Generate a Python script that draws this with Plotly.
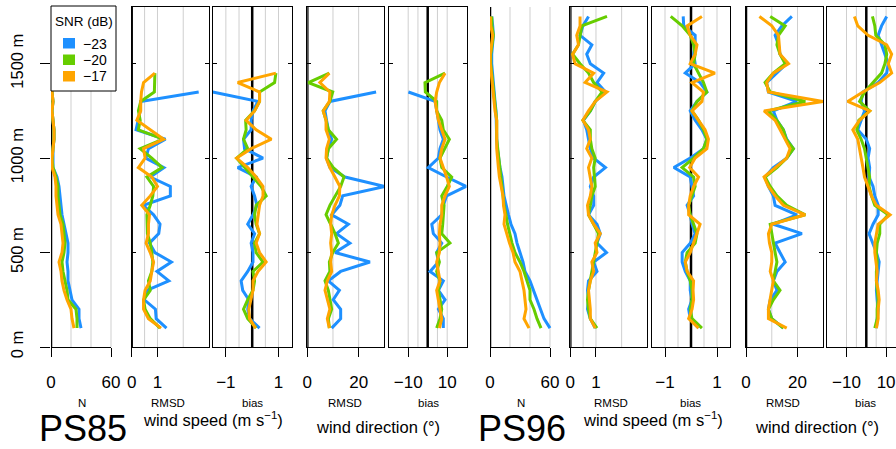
import plotly.graph_objects as go

# ---------------- data ----------------
H85 = list(range(100, 1451, 50))
H96 = list(range(100, 1751, 50))
SNR_LABELS = ["\u221223", "\u221220", "\u221217"]
COLORS = ["#1E90FF", "#66CD00", "#FFA500"]

# PS85 (blue, green, orange)
n85_m23 = [30,28,28,21,19,17,17,16,17,17,15,13,11,10,9,8,6,2,2,2,3,3,2,1,2,1]
n85_m20 = [26,26,25,17,16,14,12,11,13,14,13,12,9,8,7,7,5,2,1,2,3,3,2,1,2,1,2,1]
n85_m17 = [23,21,20,16,13,11,10,8,11,12,11,10,7,6,5,5,4,1,1,2,3,3,2,1,2,1,1,1]

rws85_m23 = [1.35,0.95,0.92,0.49,0.59,1.44,0.98,1.54,0.9,0.69,1.05,1.1,0.85,0.45,1.5,1.5,0.72,1.25,0.55,0.65,1.31,0.17,0.25,0.33,0.35,2.6]
rws85_m20 = [1.1,0.72,0.52,0.46,0.72,0.65,0.78,0.82,0.78,0.72,0.61,0.59,0.59,0.72,0.82,0.85,0.59,1.18,0.78,0.33,1.22,0.26,0.33,0.26,0.35,0.88,0.9,0.9]
rws85_m17 = [1.14,0.65,0.46,0.46,0.52,0.72,0.78,0.85,0.72,0.56,0.65,0.65,0.69,0.39,0.72,1.0,0.78,0.26,0.52,0.46,1.24,0.72,0.2,0.35,0.35,0.38,0.46,0.9]

bws85_m23 = [0.28,-0.1,-0.17,-0.13,-0.36,-0.42,-0.17,0.03,0.03,-0.04,0.09,-0.17,0.03,0.18,0.09,-0.04,0.15,-0.55,0.41,-0.29,-0.33,-0.04,-0.04,0.03,0.22,-1.5]
bws85_m20 = [0.15,-0.17,-0.33,-0.17,0.03,0.09,0.03,0.41,0.15,0.09,0.28,0.15,0.09,0.15,0.53,0.34,0.03,-0.29,-0.59,-0.17,-0.33,-0.23,-0.25,0.09,0.28,0.28,0.85,0.9]
bws85_m17 = [0.13,-0.1,-0.13,-0.04,0.03,0.03,0.22,0.53,0.28,0.15,0.28,0.18,0.22,0.28,0.41,0.41,0.15,-0.17,-0.59,-0.04,0.73,0.15,-0.23,0.09,0.28,0.28,-0.55,0.9]

rwd85_m23 = [9.5,13,13,10.1,12.5,8.2,13,24.4,10.8,16.6,11.4,16,9.5,12.7,13.8,30.3,14.7,8.8,7.5,8.2,9.5,8.2,7.5,6.9,8.8,26.8]
rwd85_m20 = [8.6,8.2,9.5,8.8,8.2,6.9,8.8,8.6,9.9,12.1,10.8,9.1,7.3,8.8,10.8,13,14.3,10.1,7.5,8.2,11.4,8.2,7.3,6.2,8.8,9.9,0.4,8.6]
rwd85_m17 = [8.6,7.8,8.8,7.8,6.9,7.8,9.5,9.1,9.5,9.1,9.5,9.1,9.5,10.8,12.5,12.7,10.8,8.8,7.3,7.5,8.6,7.3,7.3,6.2,8.6,8.8,4.9,8.6]

bwd85_m23 = [8,8,5.5,8.9,5.5,8,1.2,5.5,4.6,7.2,2.9,2.1,7.2,8,9.7,19.7,9.7,0.3,5.5,6.3,8,6.3,5.5,4.6,3.8,-9.9]
bwd85_m20 = [4.6,6.3,7.2,6.3,5.5,6.3,4.6,6,4.6,11.4,7.2,7.7,8,8.4,7.2,10,12.3,7.2,6.3,8.9,11.1,8,7.2,4.6,4.6,-1.2,-1.4,8.9]
bwd85_m17 = [6,7.2,6.3,5.5,4.6,6.3,5.5,4.6,6,6.3,6,6.3,7.2,7.2,8.9,11.1,9.7,8,6.3,7.2,8.9,7.2,5.5,4.6,3.8,4.6,6,8.9]

# PS96
n96_m23 = [60,54,50.5,47,43,40,35,33,30,27,25,21,18.5,16,14,13,12,10,8.4,7.4,6.7,6.7,6.7,6,5,4,3.4,2.4,1.7,1.7,2.7,3.4,2.7,1.7]
n96_m20 = [51,47,44,40,40,37,34,30,25,22,19.5,17.5,16,14,13,12,11,9.4,8.4,7.4,6.7,6.7,6.7,5.7,4.7,4,2.7,1.7,0.7,0.7,2,3.4,2,1.7]
n96_m17 = [39,34,36,35,34,32,30,25,23,19.5,17,14,15,13.5,13,11,9.4,8.4,7.4,6.7,6.7,6.7,6.7,5,4,2.7,2,1,0.3,0.3,1.4,2.7,0.7,0.3]

rws96_m23 = [0.97,0.78,0.67,0.71,0.67,0.71,1.04,0.91,1.41,1.04,1.17,1.04,0.71,0.91,0.91,0.78,0.91,1.37,0.91,0.78,0.71,0.64,0.51,0.78,0.97,1.37,1.04,1.3,0.78,0.64,0.84,0.38,0.49,0.71]
rws96_m20 = [1.04,0.78,0.71,0.67,0.71,0.78,0.84,0.91,0.97,1.04,1.1,0.91,0.71,0.78,0.84,0.97,0.93,0.91,0.97,0.84,0.78,0.78,0.49,0.78,0.97,1.24,0.91,0.71,0.38,0.09,0.32,0.38,0.45,1.43]
rws96_m17 = [0.97,0.78,0.78,0.75,0.71,0.78,0.91,0.84,1.04,0.97,1.17,0.91,0.71,0.67,0.78,0.84,0.78,0.71,0.84,0.64,0.78,0.71,0.49,0.71,0.97,1.43,0.58,0.91,0.18,0.09,0.32,0.25,0.38,0.38]

bws96_m23 = [0.29,-0.03,-0.09,0.04,-0.03,-0.03,-0.22,-0.34,-0.34,-0.03,0.16,0.04,-0.03,-0.15,0.1,0.04,-0.03,-0.66,-0.03,0.48,0.61,0.42,0.16,-0.03,0.23,0.61,0.35,-0.22,0.16,0.1,0.16,0.16,-0.28,-0.3]
bws96_m20 = [0.42,0.04,-0.03,0.04,0.04,-0.03,-0.15,-0.22,-0.15,0.16,0.23,0.1,-0.03,-0.09,0.04,0.16,0.1,-0.34,0.1,0.48,0.61,0.48,0.29,0.04,0.23,0.61,0.48,0.29,0.1,0.16,0.1,-0.03,-0.34,-0.78]
bws96_m17 = [0.29,-0.09,0.04,0.1,0.08,0.1,-0.15,-0.22,-0.03,0.1,0.23,0.35,-0.09,-0.09,-0.03,0.1,0.29,-0.05,0.16,0.61,0.67,0.54,0.29,0.04,0.42,0.48,0.04,0.92,-0.03,0.16,0.23,-0.03,-0.15,0.42]

rwd96_m23 = [14.5,10,8.7,9.4,12,10.6,12,15.2,13.2,11.3,21.7,10.6,19.7,11.3,10.6,8.7,7.4,10.6,15.8,18.4,15.8,14.5,12,10.6,19.7,8.7,8,12,15.8,13.2,12.6,11.3,13.9,17.8]
rwd96_m20 = [14.5,10,8.7,10.6,13.2,10.6,11.3,12,11.3,10.6,10,9.4,23,15.8,12,9.4,7.4,12,15.8,18.4,15.6,14.5,12,8.7,23,9.4,7.4,10.6,15.2,13.2,12,12.6,15.2,9.4]
rwd96_m17 = [15.8,8.7,8.7,9.4,10,10.6,9.4,10,10,9.1,8.7,10,23,14.5,11.3,8.7,7,11.3,15.8,17.1,15.2,13.2,11.3,7,29.9,8.7,8,10.6,16.5,13.2,13,12.6,10,5.2]

bwd96_m23 = [5.1,5.5,6,5.5,5.1,5.5,6,6.5,5.1,3.4,1.4,3.4,6,6,4.3,3.4,1.4,1.7,0.9,1.7,0,-4.3,-2.6,-0.9,-2.6,-1.7,6,10.3,11.1,9.4,7.7,6,7.7,10.3]
bwd96_m20 = [4.3,5.5,5.5,6,5.5,5.1,5.1,5.5,5.1,5.5,6.8,6.8,11.1,4.3,2.6,1.4,1.7,0.9,0,-0.9,-2.6,-4.8,-3.8,1.7,-3.4,-0.9,3.4,7.7,9.4,10.3,9.4,4.8,4.3,3.1]
bwd96_m17 = [5.1,6,6,6.5,6,5.1,5.5,4.8,4.3,4.3,5.1,6,12,5.1,2.6,0.9,-0.9,-1.7,-2.6,-3.4,-4.3,-6.8,-3.4,1.7,-9.4,-1.7,6.8,12.8,11.1,12.8,10.3,0.9,-4.3,-6]

# ---------------- layout helpers ----------------
W, HT = 896, 449
FONT = "Liberation Sans, Arial, Helvetica, sans-serif"

def fx(px):
    return px / W

def fy(py):
    return 1 - py / HT

YDOM = [fy(347), fy(7)]
YRANGE = [0, 1800]

# panel: (heights, [blue, green, orange], x-domain px, range, tickvals, ticktext, gridvals, kind)
panels = [
    (H85, [n85_m23, n85_m20, n85_m17], (51, 113), [0, 62], [0, 60], ["0", "60"], [20, 40, 60], "n0"),
    (H85, [rws85_m23, rws85_m20, rws85_m17], (131.7, 209), [0, 3], [0, 1], ["0", "1"], [0.5, 1, 2], "box"),
    (H85, [bws85_m23, bws85_m20, bws85_m17], (212.7, 291.7), [-1.5, 1.5], [-1, 1], ["\u22121", "1"], [-1, -0.5, 0.5, 1], "box"),
    (H85, [rwd85_m23, rwd85_m20, rwd85_m17], (307.3, 384.3), [0, 30], [0, 20], ["0", "20"], [10, 20], "box"),
    (H85, [bwd85_m23, bwd85_m20, bwd85_m17], (388.7, 466.7), [-20, 20], [-10, 10], ["\u221210", "10"], [-10, -5, 5, 10], "box"),
    (H96, [n96_m23, n96_m20, n96_m17], (490, 552), [0, 62], [0, 60], ["0", "60"], [20, 40, 60], "n1"),
    (H96, [rws96_m23, rws96_m20, rws96_m17], (570.3, 647.3), [0, 3], [0, 1], ["0", "1"], [0.5, 1, 2], "box"),
    (H96, [bws96_m23, bws96_m20, bws96_m17], (652, 730), [-1.5, 1.5], [-1, 1], ["\u22121", "1"], [-1, -0.5, 0.5, 1], "box"),
    (H96, [rwd96_m23, rwd96_m20, rwd96_m17], (746, 823.3), [0, 30], [0, 20], ["0", "20"], [10, 20], "box"),
    (H96, [bwd96_m23, bwd96_m20, bwd96_m17], (826.7, 896), [-20, 15], [-10, 10], ["\u221210", "10"], [-10, -5, 5, 10], "cut"),
]

fig = go.Figure()
shapes = []
layout = {}

for i, (hs, series, (d0, d1), rng, tv, tt, grid, kind) in enumerate(panels):
    k = i + 1
    xn = "x" if k == 1 else f"x{k}"
    yn = "y" if k == 1 else f"y{k}"
    xkey = "xaxis" if k == 1 else f"xaxis{k}"
    ykey = "yaxis" if k == 1 else f"yaxis{k}"

    for vals, col in zip(series, COLORS):
        n = min(len(vals), len(hs))
        fig.add_trace(go.Scatter(
            x=vals[:n], y=hs[:n], mode="lines", xaxis=xn, yaxis=yn,
            line=dict(color=col, width=3), showlegend=False, hoverinfo="skip"))

    boxed = kind in ("box", "cut")
    xax = dict(
        domain=[fx(d0), min(1.0, fx(d1))], range=rng, anchor=yn,
        showgrid=False, zeroline=False, automargin=False,
        showline=boxed, mirror=boxed, linecolor="black", linewidth=1,
        ticks="outside", ticklen=9, tickwidth=1, tickcolor="black",
        tickmode="array", tickvals=tv, ticktext=tt,
        tickfont=dict(family=FONT, size=17, color="black"),
        ticklabelstandoff=11, fixedrange=True,
    )
    yax = dict(
        domain=YDOM, range=YRANGE, anchor=xn, automargin=False,
        showgrid=False, zeroline=False, fixedrange=True,
        tickmode="array",
    )
    if kind == "n0":
        yax.update(showline=False, ticks="outside", ticklen=10, tickwidth=1,
                   tickcolor="black", tickvals=[0, 500, 1000, 1500],
                   ticktext=["0 m", "500 m", "1000 m", "1500 m"],
                   tickangle=-90, ticklabelstandoff=10,
                   tickfont=dict(family=FONT, size=16.5, color="black"))
    elif kind == "n1":
        yax.update(showline=False, ticks="", showticklabels=False)
    else:
        yax.update(showline=True, linecolor="black", linewidth=1,
                   mirror=("ticks" if kind == "box" else False),
                   ticks="inside", ticklen=4, tickwidth=1, tickcolor="black",
                   tickvals=[500, 1000, 1500], showticklabels=False)
    layout[xkey] = xax
    layout[ykey] = yax

    for g in grid:
        shapes.append(dict(type="line", xref=xn, yref=f"{yn} domain",
                           x0=g, x1=g, y0=0, y1=1, layer="below",
                           line=dict(color="#CFCFCF", width=1)))
    shapes.append(dict(type="line", xref=xn, yref=f"{yn} domain",
                       x0=0, x1=0, y0=0, y1=1, layer="below",
                       line=dict(color="black", width=2.5)))
    if kind in ("n0", "n1"):
        shapes.append(dict(type="line", xref=xn, yref="paper",
                           x0=tv[0], x1=tv[-1], y0=fy(347.5), y1=fy(347.5), layer="above",
                           line=dict(color="black", width=1)))

# ---------------- legend (drawn) ----------------
shapes.append(dict(type="rect", xref="paper", yref="paper",
                   x0=fx(51), x1=fx(116), y0=fy(91), y1=fy(6), layer="above",
                   fillcolor="white", line=dict(color="black", width=1)))
sq_tops = [38, 54.5, 71]
annotations = []
annotations.append(dict(x=fx(83.5), y=fy(21), xref="paper", yref="paper",
                        text="SNR (dB)", showarrow=False, xanchor="center", yanchor="middle",
                        font=dict(family=FONT, size=13.5, color="black")))
for top, col, lab_ in zip(sq_tops, COLORS, SNR_LABELS):
    shapes.append(dict(type="rect", xref="paper", yref="paper",
                       x0=fx(63), x1=fx(75), y0=fy(top + 10.5), y1=fy(top), layer="above",
                       fillcolor=col, line=dict(width=0)))
    annotations.append(dict(x=fx(81), y=fy(top + 5.5), xref="paper", yref="paper",
                            text=lab_, showarrow=False, xanchor="left", yanchor="middle",
                            font=dict(family=FONT, size=14, color="black")))

# ---------------- bottom labels ----------------
def lab(txt, px, py, size):
    annotations.append(dict(x=fx(px), y=fy(py), xref="paper", yref="paper",
                            text=txt, showarrow=False, xanchor="center", yanchor="middle",
                            font=dict(family=FONT, size=size, color="black")))

sub85 = [("N", 82), ("RMSD", 168), ("bias", 252), ("RMSD", 345), ("bias", 428)]
sub96 = [("N", 521), ("RMSD", 611), ("bias", 690), ("RMSD", 783), ("bias", 865)]
for t, x in sub85 + sub96:
    lab(t, x, 403, 11.5)
lab("wind speed (m s<sup>\u22121</sup>)", 213, 419, 16.5)
lab("wind speed (m s<sup>\u22121</sup>)", 653, 419, 16.5)
lab("wind direction (\u00b0)", 378, 427, 16.5)
lab("wind direction (\u00b0)", 817, 427, 16.5)
lab("PS85", 83, 428.5, 36)
lab("PS96", 522, 428.5, 36)

fig.update_layout(
    template="none",
    width=W, height=HT,
    margin=dict(l=0, r=0, t=0, b=0, autoexpand=False),
    paper_bgcolor="white", plot_bgcolor="white",
    showlegend=False,
    shapes=shapes, annotations=annotations,
    font=dict(family=FONT, color="black"),
    **layout,
)

fig.write_html(
    "out.html",
    config={"displayModeBar": False},
    post_script="document.body.style.margin='0';document.body.style.padding='0';"
                "document.documentElement.style.overflow='hidden';",
)
